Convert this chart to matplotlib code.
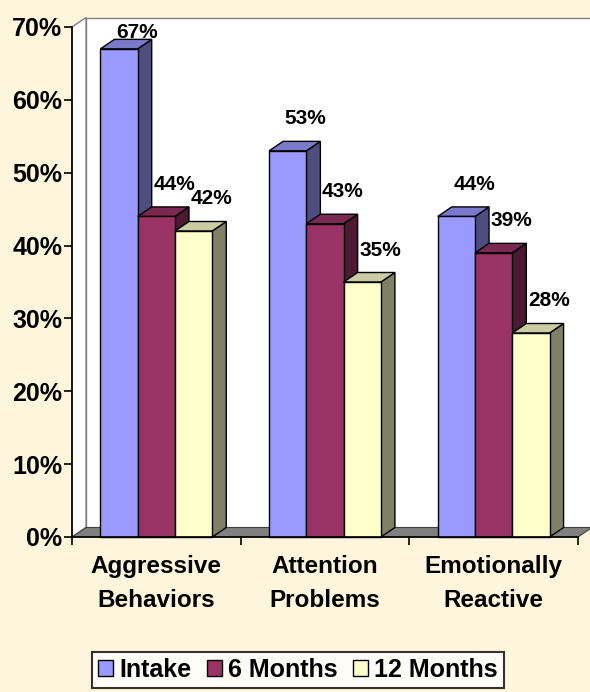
import matplotlib
matplotlib.use("Agg")
import matplotlib.pyplot as plt
from matplotlib.patches import Polygon, Rectangle, Patch

# datos
categorias = ["Aggressive\nBehaviors", "Attention\nProblems", "Emotionally\nReactive"]
series = ["Intake", "6 Months", "12 Months"]
intake = [67, 53, 44]
meses6 = [44, 43, 39]
meses12 = [42, 35, 28]
valores = [intake, meses6, meses12]

# colores: frente, arriba, lado
frente = ["#9999FF", "#993366", "#FFFFCC"]
arriba = ["#7A7ACC", "#7A2952", "#CCCCA3"]
lado = ["#4D4D80", "#4D1A33", "#808066"]
fondo = "#FDF5DC"

plt.rcParams['font.family'] = ['Liberation Sans', 'DejaVu Sans']
plt.rcParams['font.weight'] = 'bold'

W, H = 590, 692
fig = plt.figure(figsize=(W / 100, H / 100), dpi=100)
fig.patch.set_facecolor(fondo)

# ejes en pixeles: eje y en x=72, 0% en y=537, 70% en y=27
x0p, x1p, y0p, y1p = 72, 578, 537, 27
ax = fig.add_axes([x0p / W, (H - y0p) / H, (x1p - x0p) / W, (y0p - y1p) / H])
ax.set_xlim(0, 3)
ax.set_ylim(0, 70)
ax.patch.set_alpha(0)

ux = 3 / (x1p - x0p)   # unidades por pixel
uy = 70 / (y0p - y1p)
dx, dy = 14 * ux, 9.5 * uy   # profundidad 3D

# paredes y piso
pared_izq = Polygon([(0, 0), (dx, dy), (dx, 70 + dy), (0, 70)], closed=True,
                    facecolor="white", edgecolor="#808080", lw=1, clip_on=False, zorder=1)
pared_fondo = Polygon([(dx, dy), (3 + dx + 0.1, dy), (3 + dx + 0.1, 70 + dy), (dx, 70 + dy)],
                      closed=True, facecolor="white", edgecolor="#808080", lw=1,
                      clip_on=False, zorder=1)
piso = Polygon([(0, 0), (3, 0), (3 + dx, dy), (dx, dy)], closed=True,
               facecolor="#808080", edgecolor="#404040", lw=0.8, clip_on=False, zorder=1.5)
ax.add_patch(pared_fondo)
ax.add_patch(pared_izq)
ax.add_patch(piso)

ancho = 0.221
z = 2
for c in range(len(categorias)):
    for s in range(len(series)):
        v = valores[s][c]
        xb = c + 0.5 + (s - 1) * ancho - ancho / 2
        cara = Rectangle((xb, 0), ancho, v, facecolor=frente[s], edgecolor="black",
                         lw=1, zorder=z, clip_on=False)
        tapa = Polygon([(xb, v), (xb + ancho, v), (xb + ancho + dx, v + dy), (xb + dx, v + dy)],
                       closed=True, facecolor=arriba[s], edgecolor="black", lw=1,
                       zorder=z, clip_on=False)
        costado = Polygon([(xb + ancho, 0), (xb + ancho + dx, dy), (xb + ancho + dx, v + dy),
                           (xb + ancho, v)], closed=True, facecolor=lado[s],
                          edgecolor="black", lw=1, zorder=z, clip_on=False)
        ax.add_patch(costado)
        ax.add_patch(tapa)
        ax.add_patch(cara)
        z += 1
        # etiqueta del valor
        ty = min(v + 32 * uy, 69.3)
        ax.text(xb + ancho / 2 + 18 * ux, ty, f"{v}%", ha="center", va="center",
                fontsize=15, fontweight="bold", zorder=50)

# ejes
for sp in ["top", "right"]:
    ax.spines[sp].set_visible(False)
ax.spines["left"].set_zorder(40)
ax.spines["bottom"].set_zorder(40)
ax.spines["left"].set_linewidth(1.2)
ax.spines["bottom"].set_linewidth(1.2)

ax.set_yticks(range(0, 71, 10))
ax.set_yticklabels([f"{t}%" for t in range(0, 71, 10)])
ax.tick_params(axis="y", direction="out", length=6, width=1.2, labelsize=18, pad=1)

ax.set_xticks([0, 1, 2, 3])
ax.set_xticklabels([])
ax.set_xticks([0.5, 1.5, 2.5], minor=True)
ax.set_xticklabels(categorias, minor=True, fontsize=17.5, fontweight="bold", linespacing=1.6)
ax.tick_params(axis="x", which="major", direction="out", length=6, width=1.2)
ax.tick_params(axis="x", which="minor", length=0, pad=13)
for lab in ax.get_yticklabels():
    lab.set_fontweight("bold")

# leyenda
manijas = [Patch(facecolor=frente[i], edgecolor="black", label=series[i]) for i in range(3)]
leg = fig.legend(handles=manijas, loc="center", bbox_to_anchor=(298 / W, (H - 670) / H),
                 ncol=3, frameon=True, fancybox=False, handlelength=0.6, handleheight=0.6,
                 handletextpad=0.25, columnspacing=0.6, borderpad=0.25, borderaxespad=0,
                 prop={"weight": "bold", "size": 18})
leg.get_frame().set_edgecolor("black")
leg.get_frame().set_linewidth(1.5)
leg.get_frame().set_facecolor("white")

fig.savefig("out.png", dpi=100, facecolor=fondo)
